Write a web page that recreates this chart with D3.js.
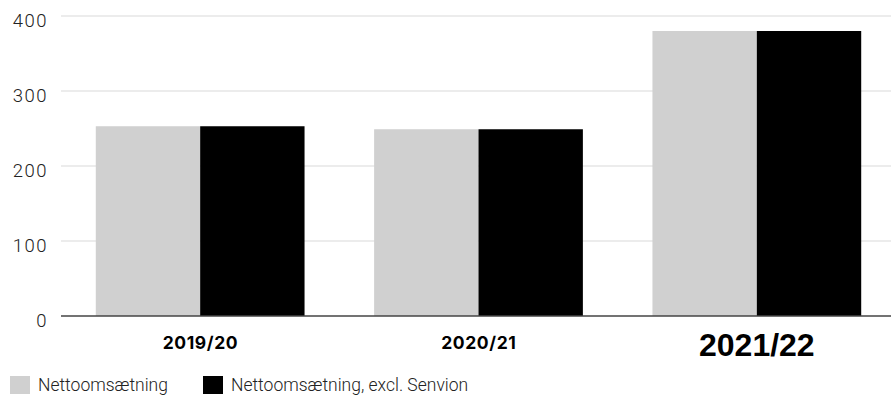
<!DOCTYPE html>
<html>
<head>
<meta charset="utf-8">
<script src="https://cdn.jsdelivr.net/npm/d3@7"></script>
<style>
  html, body { margin: 0; padding: 0; background: #fff; }
  svg { display: block; }
</style>
</head>
<body>
<svg id="chart" width="891" height="395"></svg>
<script>
const categories = ["2019/20", "2020/21", "2021/22"];
const seriesNames = ["Nettoomsætning", "Nettoomsætning, excl. Senvion"];
const netto = [253, 249, 380];
const nettoExcl = [253, 249, 380];
const yTicks = [0, 100, 200, 300, 400];
const colors = ["#d0d0d0", "#000000"];

const svg = d3.select("#chart");
const plotLeft = 61, plotRight = 891, plotTop = 16, plotBottom = 316;

const y = d3.scaleLinear().domain([0, 400]).range([plotBottom, plotTop]);
const x0 = d3.scaleBand().domain(categories).range([plotLeft, 896]).paddingInner(0.25).paddingOuter(0.125);
const x1 = d3.scaleBand().domain([0, 1]).range([0, x0.bandwidth()]);

// gridlines
svg.append("g").selectAll("line").data(yTicks.filter(d => d > 0)).join("line")
  .attr("x1", plotLeft).attr("x2", plotRight)
  .attr("y1", d => y(d)).attr("y2", d => y(d))
  .attr("stroke", "#e6e6e6").attr("stroke-width", 1.5);

// y labels
svg.append("g").selectAll("text").data(yTicks).join("text")
  .attr("x", 48).attr("y", d => y(d) + 11)
  .attr("text-anchor", "end")
  .style("font-family", "Roboto, 'Liberation Sans', sans-serif")
  .style("font-weight", 300)
  .style("font-size", "18.5px")
  .style("letter-spacing", "1.5px")
  .attr("fill", "#222")
  .text(d => d);

// bars
const data = categories.map((c, i) => ({ c, vals: [netto[i], nettoExcl[i]] }));
const groups = svg.append("g").selectAll("g").data(data).join("g")
  .attr("transform", d => `translate(${x0(d.c)},0)`);
groups.selectAll("rect").data(d => d.vals.map((v, k) => ({ v, k }))).join("rect")
  .attr("x", d => x1(d.k)).attr("width", x1.bandwidth())
  .attr("y", d => y(d.v)).attr("height", d => y(0) - y(d.v))
  .attr("fill", d => colors[d.k]);

// baseline
svg.append("line").attr("x1", plotLeft).attr("x2", plotRight)
  .attr("y1", y(0)).attr("y2", y(0))
  .attr("stroke", "#444").attr("stroke-width", 1.5);

// x labels
svg.append("g").selectAll("text").data(categories).join("text")
  .attr("x", (d, i) => x0(d) + x0.bandwidth() / 2 + (i === 2 ? 0 : 0.3))
  .attr("y", (d, i) => i === 2 ? 356 : 349)
  .attr("text-anchor", "middle")
  .style("font-family", (d, i) => i === 2 ? "'Liberation Sans', Arial, sans-serif" : "Inter, 'Liberation Sans', sans-serif")
  .style("font-weight", 700)
  .style("font-size", (d, i) => i === 2 ? "32px" : "17.5px")
  .style("letter-spacing", (d, i) => i === 2 ? "0px" : "0.6px")
  .attr("fill", "#000")
  .text(d => d);

// legend
const legend = svg.append("g");
const legX = [10, 203];
seriesNames.forEach((name, i) => {
  legend.append("rect").attr("x", legX[i]).attr("y", 376).attr("width", 20).attr("height", 18).attr("fill", colors[i]);
  legend.append("text").attr("x", legX[i] + 28).attr("y", 391)
    .style("font-family", "Roboto, 'Liberation Sans', sans-serif")
    .style("font-weight", 300)
    .style("font-size", "17.5px")
    .attr("fill", "#222")
    .text(name);
});
</script>
</body>
</html>
